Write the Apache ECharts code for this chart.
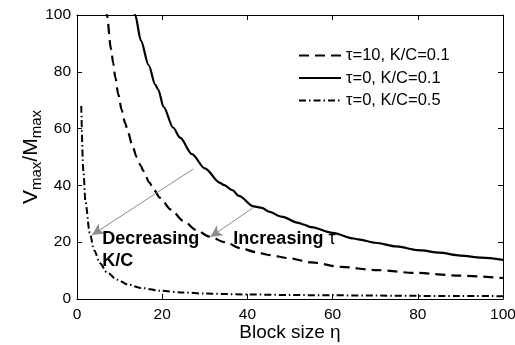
<!DOCTYPE html>
<html>
<head>
<meta charset="utf-8">
<script src="https://cdn.jsdelivr.net/npm/echarts@6/dist/echarts.min.js"></script>
<style>
  html, body { margin: 0; padding: 0; background: #fff; }
  #chart { width: 515px; height: 345px; }
</style>
</head>
<body>
<div id="chart"></div>
<script>
// 数据
var xTicks = [0, 20, 40, 60, 80, 100];
var yTicks = [0, 20, 40, 60, 80, 100];

// τ=10, K/C=0.1 (虚线)
var etaDashed = [6.5, 7, 8, 8.5, 9, 9.7, 10.5, 11.3, 12, 13, 14, 15, 15.6, 17, 18, 19.5, 22, 25, 28, 31, 34.8, 38.4, 42, 45, 49.6, 55, 62, 70, 79.5, 90, 100];
var valDashed = [108, 100, 88, 83, 78, 72, 66.5, 62, 58.5, 54, 50, 46.8, 45, 41, 38.5, 35.6, 31.5, 27.5, 24.3, 22, 20, 17.9, 16.5, 15.5, 14.4, 12.9, 11.3, 10.2, 9.2, 8.2, 7.4];

// τ=0, K/C=0.1 (实线)
var etaSolid = [13, 13.65, 15, 16.8, 18.4, 19.1, 20.3, 22.6, 24.2, 27, 30, 33.6, 34.4, 36.5, 38, 41.5, 43.4, 45, 48, 52, 53, 55, 60, 65, 66, 70, 75, 80, 81, 85, 90, 95, 100];
var valSolid = [105, 100, 91, 82.4, 75.4, 73.6, 67.7, 60.3, 56.8, 51, 46, 40.9, 40.2, 38.3, 36.3, 32.6, 32.1, 30.8, 29, 26.8, 26.3, 25.3, 23.3, 21.3, 21, 19.8, 18.5, 17.2, 17.1, 16.3, 15.3, 14.6, 13.8];

// τ=0, K/C=0.5 (点划线)
var etaDashDot = [1, 1.5, 2, 3, 4, 5.4, 7, 9.4, 12, 15, 19.5, 25, 30, 40, 50, 60, 70, 80, 90, 100];
var valDashDot = [68, 45, 34, 23.2, 17.2, 12.6, 9.4, 6.8, 5.1, 3.9, 2.9, 2.3, 1.9, 1.6, 1.4, 1.3, 1.2, 1.1, 1.05, 1.0];

var seriesNames = ['τ=10, K/C=0.1', 'τ=0, K/C=0.1', 'τ=0, K/C=0.5'];

// 箭头（数据坐标：起点 -> 终点）
var arrowKC = [[27.3, 45.8], [3.5, 22.5]];
var arrowTau = [[41.2, 32], [31.3, 21.8]];

var FONT = 'Liberation Sans, Arial, Helvetica, sans-serif';

var zip = function (xs, ys) {
  return xs.map(function (x, i) { return [x, ys[i]]; });
};

var chart = echarts.init(document.getElementById('chart'));

var axisCommon = {
  type: 'value',
  min: 0,
  max: 100,
  interval: 20,
  axisLine: { show: true, onZero: false, lineStyle: { color: '#000', width: 1 } },
  axisTick: { show: true, inside: true, length: 5, lineStyle: { color: '#000' } },
  splitLine: { show: false }
};

var option = {
  animation: false,
  backgroundColor: '#fff',
  textStyle: { fontFamily: FONT },
  grid: { left: 77, right: 12, top: 15, bottom: 46, containLabel: false, outerBoundsMode: 'none' },
  legend: {
    orient: 'vertical',
    left: 298,
    top: 47,
    itemWidth: 42,
    itemHeight: 14,
    itemGap: 5.5,
    padding: 0,
    data: seriesNames,
    itemStyle: { opacity: 0 },
    textStyle: { fontFamily: FONT, fontSize: 16.5, color: '#000' }
  },
  xAxis: [
    Object.assign({}, axisCommon, {
      position: 'bottom',
      name: 'Block size η',
      nameLocation: 'middle',
      nameGap: 24,
      nameMoveOverlap: false,
      nameTextStyle: { fontFamily: FONT, fontSize: 19, color: '#000' },
      axisLabel: { fontFamily: FONT, fontSize: 15.5, color: '#000', margin: 8 }
    }),
    Object.assign({}, axisCommon, {
      position: 'top',
      axisLabel: { show: false }
    })
  ],
  yAxis: [
    Object.assign({}, axisCommon, {
      position: 'left',
      name: 'V{s|max}/M{s|max}',
      nameLocation: 'middle',
      nameGap: 33,
      nameMoveOverlap: false,
      nameTextStyle: {
        fontFamily: FONT, fontSize: 21, color: '#000',
        rich: {
          s: { fontFamily: FONT, fontSize: 15, color: '#000', padding: [11, 0, 0, 0] }
        }
      },
      axisLabel: { fontFamily: FONT, fontSize: 15.5, color: '#000', margin: 6 }
    }),
    Object.assign({}, axisCommon, {
      position: 'right',
      axisLabel: { show: false }
    })
  ],
  series: [
    {
      name: seriesNames[0],
      type: 'line',
      data: zip(etaDashed, valDashed),
      showSymbol: false,
      symbol: 'none',
      smooth: 0.3,
      smoothMonotone: 'x',
      lineStyle: { color: '#000', width: 2.2, type: [10, 6] },
      itemStyle: { color: '#000' }
    },
    {
      name: seriesNames[1],
      type: 'line',
      data: zip(etaSolid, valSolid),
      showSymbol: false,
      symbol: 'none',
      smooth: 0.3,
      smoothMonotone: 'x',
      lineStyle: { color: '#000', width: 2.2, type: 'solid' },
      itemStyle: { color: '#000' },
      markLine: {
        silent: true,
        symbol: ['none', 'arrow'],
        symbolSize: [9, 12],
        lineStyle: { color: '#8c8c8c', width: 1, type: 'solid' },
        label: { show: false },
        data: [
          [{ coord: arrowKC[0] }, { coord: arrowKC[1] }],
          [{ coord: arrowTau[0] }, { coord: arrowTau[1] }]
        ]
      }
    },
    {
      name: seriesNames[2],
      type: 'line',
      data: zip(etaDashDot, valDashDot),
      showSymbol: false,
      symbol: 'none',
      smooth: 0.3,
      smoothMonotone: 'x',
      lineStyle: { color: '#000', width: 2, type: [7, 3, 1.5, 3] },
      itemStyle: { color: '#000' },
      markPoint: {
        silent: true,
        symbol: 'circle',
        symbolSize: 0,
        data: [
          { coord: [5.9, 21.1], label: { formatter: 'Decreasing' } },
          { coord: [5.9, 13.4], label: { formatter: 'K/C' } },
          { coord: [36.7, 21.1], label: { formatter: '{b|Increasing} {t|τ}' } }
        ],
        label: {
          show: true,
          position: [0, 0],
          align: 'left',
          verticalAlign: 'middle',
          fontFamily: FONT,
          fontSize: 18,
          fontWeight: 'bold',
          color: '#000',
          rich: {
            b: { fontFamily: FONT, fontSize: 18, fontWeight: 'bold', color: '#000' },
            t: { fontFamily: FONT, fontSize: 18, fontWeight: 'normal', color: '#000' }
          }
        }
      }
    }
  ]
};

chart.setOption(option);
</script>
</body>
</html>
